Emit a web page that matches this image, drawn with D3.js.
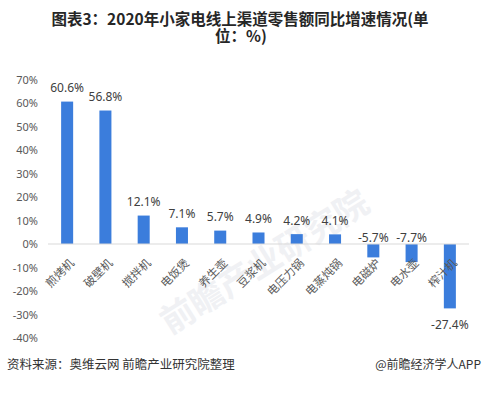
<!DOCTYPE html>
<html>
<head>
<meta charset="utf-8">
<script src="https://cdn.jsdelivr.net/npm/d3@7"></script>
<style>
  body { margin: 0; background: #fff; }
  svg { display: block; }
</style>
</head>
<body>
<div id="chartArea"></div>
<script>
var categories = ['煎烤机', '破壁机', '搅拌机', '电饭煲', '养生壶', '豆浆机', '电压力锅', '电蒸炖锅', '电磁炉', '电水壶', '榨汁机'];
var growth = [60.6, 56.8, 12.1, 7.1, 5.7, 4.9, 4.2, 4.1, -5.7, -7.7, -27.4];
var yTicks = [70, 60, 50, 40, 30, 20, 10, 0, -10, -20, -30, -40];

var w = 483, h = 393;
var cjk = '"Noto Sans CJK SC", "Noto Sans", sans-serif';

var svg = d3.select('#chartArea').append('svg')
    .attr('width', w)
    .attr('height', h);

// faint watermark text
var wm = svg.append('g').attr('fill', '#f0f1f4').attr('font-family', cjk).attr('font-weight', 'bold');
wm.append('text').attr('transform', 'translate(170,335) rotate(-32)').attr('font-size', 34).text('前瞻产业研究院');

var xScale = d3.scaleBand()
    .domain(categories)
    .range([48, 469])
    .paddingInner(0.686)
    .paddingOuter(0.343);

var yScale = d3.scaleLinear()
    .domain([-40, 70])
    .range([338, 79.5]);

// title
var title = svg.append('g')
    .attr('font-family', cjk)
    .attr('font-weight', 'bold')
    .attr('font-size', 15.5)
    .attr('fill', '#262626')
    .attr('text-anchor', 'middle');
title.append('text').attr('x', 240).attr('y', 25).text('图表3：2020年小家电线上渠道零售额同比增速情况(单');
title.append('text').attr('x', 241).attr('y', 42).text('位：%)');

// y axis
var yAxis = d3.axisLeft(yScale)
    .tickValues(yTicks)
    .tickSize(0)
    .tickPadding(0)
    .tickFormat(function (d) { return d + '%'; });

var gy = svg.append('g')
    .attr('transform', 'translate(38,0)')
    .call(yAxis);
gy.select('.domain').remove();
gy.selectAll('text')
    .attr('font-family', '"Noto Sans", sans-serif')
    .attr('font-size', 11)
    .attr('fill', '#595959');

// bars
svg.selectAll('rect.bar')
    .data(growth)
    .enter()
    .append('rect')
    .attr('class', 'bar')
    .attr('x', function (d, i) { return xScale(categories[i]); })
    .attr('y', function (d) { return yScale(Math.max(d, 0)); })
    .attr('width', xScale.bandwidth())
    .attr('height', function (d) { return Math.abs(yScale(d) - yScale(0)); })
    .attr('fill', '#3b7ddc');

// zero line
svg.append('line')
    .attr('x1', 48).attr('x2', 469)
    .attr('y1', yScale(0)).attr('y2', yScale(0))
    .attr('stroke', '#d9d9d9')
    .attr('stroke-width', 1);

// value labels
svg.selectAll('text.val')
    .data(growth)
    .enter()
    .append('text')
    .attr('class', 'val')
    .attr('x', function (d, i) { return xScale(categories[i]) + xScale.bandwidth() / 2; })
    .attr('y', function (d) {
        if (d >= 0) return yScale(d) - 9.5;
        if (d > -10) return yScale(0) - 2;
        return yScale(d) + 21;
    })
    .attr('text-anchor', 'middle')
    .attr('font-family', '"Noto Sans", sans-serif')
    .attr('font-size', 12)
    .attr('fill', '#404040')
    .text(function (d) { return d.toFixed(1) + '%'; });

// category labels
svg.selectAll('text.cat')
    .data(categories)
    .enter()
    .append('text')
    .attr('class', 'cat')
    .attr('transform', function (d) {
        var cx = xScale(d) + xScale.bandwidth() / 2;
        return 'translate(' + (cx + 5) + ',' + (yScale(0) + 17) + ') rotate(-45)';
    })
    .attr('text-anchor', 'end')
    .attr('dy', '0.35em')
    .attr('font-family', cjk)
    .attr('font-size', 11.5)
    .attr('fill', '#595959')
    .text(function (d) { return d; });

// footer
svg.append('text')
    .attr('x', 7).attr('y', 369)
    .attr('font-family', cjk)
    .attr('font-size', 12.5)
    .attr('fill', '#333')
    .text('资料来源：奥维云网 前瞻产业研究院整理');
svg.append('text')
    .attr('x', 481).attr('y', 369)
    .attr('text-anchor', 'end')
    .attr('font-family', cjk)
    .attr('font-size', 12)
    .attr('fill', '#333')
    .text('@前瞻经济学人APP');
</script>
</body>
</html>
